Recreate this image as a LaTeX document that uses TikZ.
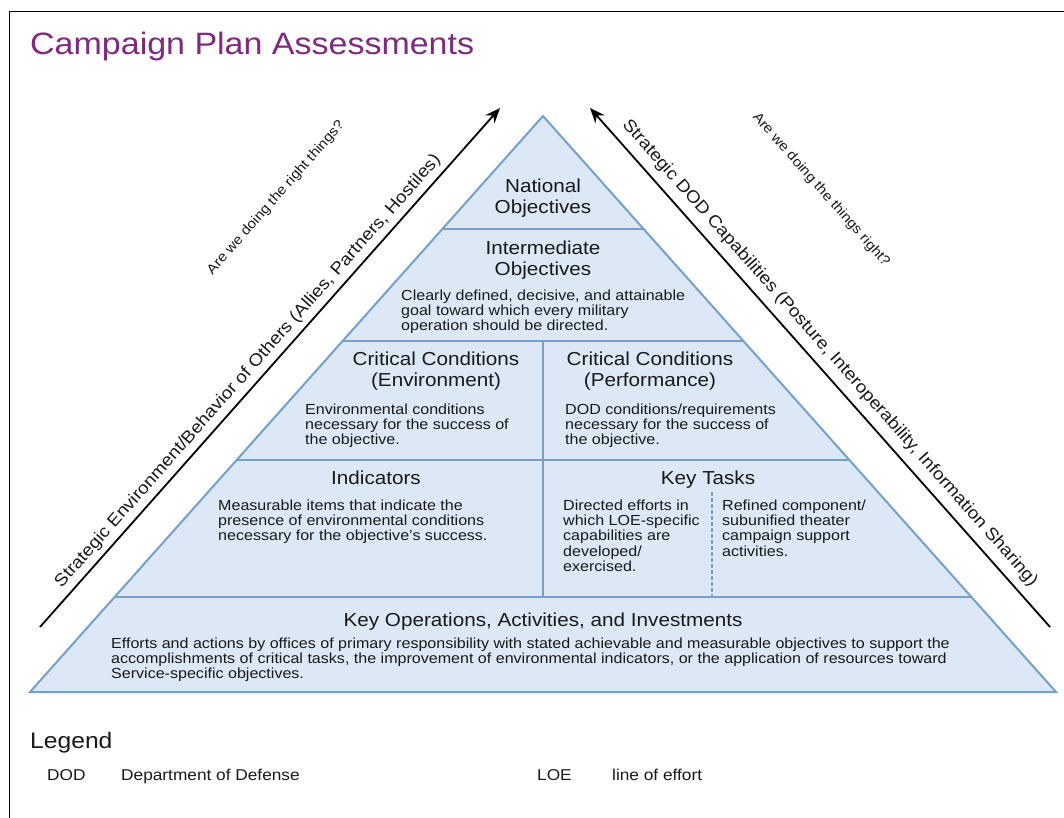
\documentclass[tikz,border=0pt]{standalone}
\usepackage{fontspec}
\setmainfont{Liberation Sans}[FakeStretch=1.1]
\usetikzlibrary{arrows.meta,calc}
\definecolor{pyrfill}{RGB}{220,232,246}
\definecolor{pyrline}{RGB}{118,160,200}
\definecolor{titlecol}{RGB}{128,42,126}
\definecolor{txt}{RGB}{25,25,25}
\begin{document}
\begin{tikzpicture}[x=1pt,y=-1pt,
  heading/.style={font=\fontsize{18.8}{21}\selectfont, align=center, text=txt, inner sep=0pt},
  desc/.style={font=\fontsize{14.6}{15.1}\selectfont, align=left, text=txt, inner sep=0pt, anchor=north west},
  arrowline/.style={line width=1.8pt, -{Stealth[length=15pt,width=12pt]}},
  sidetext/.style={font=\fontsize{17.2}{19}\selectfont, text=txt, inner sep=0pt},
  question/.style={font=\fontsize{13.7}{15}\selectfont, text=txt, inner sep=0pt},
  legendtext/.style={font=\fontsize{15.7}{17}\selectfont, text=txt, inner sep=0pt, anchor=base west},
  divline/.style={draw=pyrline, line width=1.3pt}]
\useasboundingbox (0,0) rectangle (1064,818);
\fill[white] (0,0) rectangle (1064,818);
\draw[line width=1.8pt] (9.5,818) -- (9.5,11.5) -- (1064,11.5);

% title
\node[anchor=base west, inner sep=0pt, text=titlecol, font=\fontsize{30.9}{34}\selectfont] (title) at (30,55) {Campaign Plan Assessments};

% pyramid
\coordinate (apex) at (543,116);
\coordinate (bl) at (30,692);
\coordinate (br) at (1056,692);
\fill[pyrfill] (apex) -- (bl) -- (br) -- cycle;
\foreach \f/\n in {0.1962/a,0.3906/b,0.5972/c,0.8351/d}{
  \coordinate (l\n) at ($(apex)!\f!(bl)$);
  \coordinate (r\n) at ($(apex)!\f!(br)$);
  \draw[divline] (l\n) -- (r\n);
}
\coordinate (vt) at (543,341);
\coordinate (vb) at (543,597);
\draw[divline] (vt) -- (vb);
\coordinate (dt) at (712,492);
\coordinate (db) at (712,597);
\draw[divline, line width=1.1pt, dash pattern=on 4pt off 2pt] (dt) -- (db);
\draw[draw=pyrline, line width=2pt, line join=miter] (apex) -- (bl) -- (br) -- cycle;

% texts in pyramid
\node[heading, anchor=north] (nat) at (543,178.5) {National\\Objectives};
\node[heading, anchor=north] (inter) at (543,240.5) {Intermediate\\Objectives};
\node[desc] (interd) at (401,289.5) {Clearly defined, decisive, and attainable\\goal toward which every military\\operation should be directed.};
\node[heading, anchor=north] (cce) at (436,351.5) {Critical Conditions\\(Environment)};
\node[desc] (cced) at (305,404) {Environmental conditions\\necessary for the success of\\the objective.};
\node[heading, anchor=north] (ccp) at (650,351.5) {Critical Conditions\\(Performance)};
\node[desc] (ccpd) at (565,404) {DOD conditions/requirements\\necessary for the success of\\the objective.};
\node[heading, anchor=base] (ind) at (376,484.5) {Indicators};
\node[desc] (indd) at (218,500) {Measurable items that indicate the\\presence of environmental conditions\\necessary for the objective’s success.};
\node[heading, anchor=base] (kt) at (708,484.5) {Key Tasks};
\node[desc] (ktl) at (563,500) {Directed efforts in\\which LOE-specific\\capabilities are\\developed/\\exercised.};
\node[desc] (ktr) at (722,500) {Refined component/\\subunified theater\\campaign support\\activities.};
\node[heading, anchor=base] (koa) at (543,626.5) {Key Operations, Activities, and Investments};
\node[desc] (koad) at (111,637.5) {Efforts and actions by offices of primary responsibility with stated achievable and measurable objectives to support the\\accomplishments of critical tasks, the improvement of environmental indicators, or the application of resources toward\\Service-specific objectives.};

% side arrows
\coordinate (L1) at (40,627);
\coordinate (L2) at (500,108);
\draw[arrowline] (L1) -- (L2) node[sidetext, pos=0.475, sloped, above=5pt] (ltxt) {Strategic Environment/Behavior of Others (Allies, Partners, Hostiles)};
\coordinate (R1) at (1050,627);
\coordinate (R2) at (590,108);
\draw[arrowline] (R1) -- (R2) node[sidetext, pos=0.506, sloped, above=8pt] (rtxt) {Strategic DOD Capabilities (Posture, Interoperability, Information Sharing)};
\node[question, rotate=48.5] (lq) at (276,198) {Are we doing the right things?};
\node[question, rotate=-48.5] (rq) at (821,190) {Are we doing the things right?};

% legend
\node[anchor=base west, inner sep=0pt, text=txt, font=\fontsize{22.4}{25}\selectfont] (leg) at (30,748) {Legend};
\node[legendtext] (dod) at (47,780) {DOD};
\node[legendtext] (dodt) at (121,780) {Department of Defense};
\node[legendtext] (loe) at (537,780) {LOE};
\node[legendtext] (loet) at (612,780) {line of effort};
\end{tikzpicture}
\end{document}
